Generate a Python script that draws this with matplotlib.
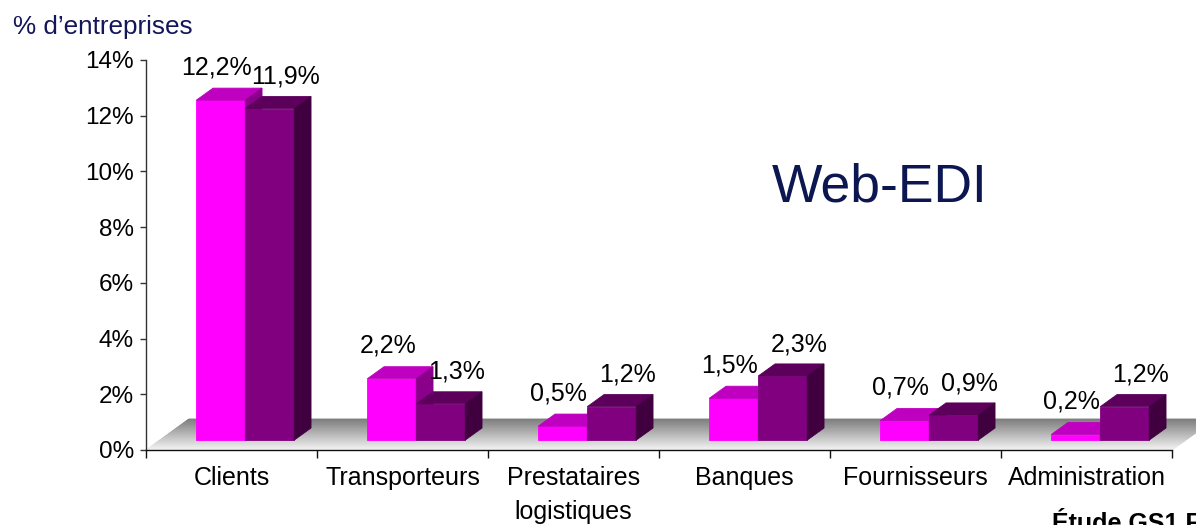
import matplotlib
matplotlib.use("Agg")
import matplotlib.pyplot as plt
from matplotlib.patches import Polygon
import numpy as np

# ---- data -------------------------------------------------------------
categories = ["Clients", "Transporteurs", "Prestataires\nlogistiques",
              "Banques", "Fournisseurs", "Administration"]
series_a = [12.2, 2.2, 0.5, 1.5, 0.7, 0.2]   # magenta bars
series_b = [11.9, 1.3, 1.2, 2.3, 0.9, 1.2]   # purple bars
y_ticks = [0, 2, 4, 6, 8, 10, 12, 14]

# ---- figure / axes ----------------------------------------------------
plt.rcParams['font.family'] = ['Liberation Sans', 'DejaVu Sans']
W, H = 1196, 525
fig = plt.figure(figsize=(W / 100, H / 100), dpi=100)
fig.patch.set_facecolor("white")

left, right, bottom, top = 146, 1172, 450, 60          # plot box in pixels
ax = fig.add_axes([left / W, 1 - bottom / H, (right - left) / W, (bottom - top) / H])
n = len(categories)
ax.set_xlim(0, n)
ax.set_ylim(0, 14)
ax.set_facecolor("none")

ux = n / (right - left)     # data units per pixel (x)
uy = 14 / (bottom - top)    # data units per pixel (y)

# pseudo-3D geometry
floor_dx, floor_dy = 43 * ux, 31 * uy
front_frac, depth_frac = 0.32, 0.39
sx, sy = front_frac * floor_dx, front_frac * floor_dy
ddx, ddy = depth_frac * floor_dx, depth_frac * floor_dy
bar_w = 49 * ux

# ---- floor with depth gradient -----------------------------------------
n_strips = 80
floor_len = n
for i in range(n_strips):
    t0, t1 = i / n_strips, (i + 1) / n_strips
    g = 0.97 - 0.47 * (t0 + t1) / 2
    pts = [(t0 * floor_dx, t0 * floor_dy), (floor_len + t0 * floor_dx, t0 * floor_dy),
           (floor_len + t1 * floor_dx, t1 * floor_dy), (t1 * floor_dx, t1 * floor_dy)]
    ax.add_patch(Polygon(pts, closed=True, facecolor=(g, g, g), edgecolor=(g, g, g),
                         linewidth=0.6, clip_on=False, zorder=1))


def draw_bar(x0, v, front, topc, side):
    x1 = x0 + bar_w
    y0, y1 = sy, sy + v
    faces = [
        ([(x0, y0), (x1, y0), (x1, y1), (x0, y1)], front),
        ([(x0, y1), (x1, y1), (x1 + ddx, y1 + ddy), (x0 + ddx, y1 + ddy)], topc),
        ([(x1, y0), (x1 + ddx, y0 + ddy), (x1 + ddx, y1 + ddy), (x1, y1)], side),
    ]
    for pts, col in faces:
        ax.add_patch(Polygon(pts, closed=True, facecolor=col, edgecolor=col,
                             linewidth=0.6, clip_on=False, zorder=3))


colors_a = ("#FF00FF", "#C000C0", "#8A008A")
colors_b = ("#800080", "#5C005C", "#400040")

px2pt = 0.72
for i, (a, b) in enumerate(zip(series_a, series_b)):
    c = i + 0.5 + sx
    xa = c - bar_w
    xb = c
    draw_bar(xa, a, *colors_a)
    draw_bar(xb, b, *colors_b)
    ax.annotate(f"{a:.1f}%".replace(".", ","), xy=(xa + bar_w / 2, sy + a),
                xytext=(-4 * px2pt, 33 * px2pt), textcoords="offset points",
                ha="center", va="center", fontsize=18, color="black",
                annotation_clip=False, zorder=5)
    ax.annotate(f"{b:.1f}%".replace(".", ","), xy=(xb + bar_w / 2, sy + b),
                xytext=(16 * px2pt, 32 * px2pt), textcoords="offset points",
                ha="center", va="center", fontsize=18, color="black",
                annotation_clip=False, zorder=5)

# ---- axes styling -------------------------------------------------------
for s in ("top", "right"):
    ax.spines[s].set_visible(False)
ax.spines["left"].set_color("#333333")
ax.spines["bottom"].set_color("#111111")
ax.spines["left"].set_linewidth(1.0)
ax.spines["bottom"].set_linewidth(1.0)
ax.spines["left"].set_zorder(4)
ax.spines["bottom"].set_zorder(4)

ax.set_yticks(y_ticks)
ax.set_yticklabels([f"{t}%" for t in y_ticks], fontsize=17.5)
ax.tick_params(axis="y", direction="out", length=6 * px2pt, pad=6 * px2pt,
               color="#333333", width=1.0)

ax.set_xticks(range(n + 1))
ax.set_xticklabels([])
ax.tick_params(axis="x", which="major", direction="out", length=8 * px2pt,
               color="#111111", width=1.0)
ax.set_xticks([i + 0.5 for i in range(n)], minor=True)
ax.set_xticklabels(categories, minor=True, fontsize=18, linespacing=1.55)
ax.tick_params(axis="x", which="minor", length=0, pad=16 * px2pt)

# ---- titles ---------------------------------------------------------------
fig.text(13 / W, 1 - 34 / H, "% d\u2019entreprises", fontsize=18.8,
         color="#14165A", ha="left", va="baseline")
fig.text(772 / W, 1 - 202 / H, "Web-EDI", fontsize=38.5,
         color="#0C1650", ha="left", va="baseline")
fig.text(1052 / W, 1 - 531 / H, "\u00c9tude GS1 France", fontsize=18,
         fontweight="bold", color="black", ha="left", va="baseline")

fig.savefig("out.png", dpi=100)
